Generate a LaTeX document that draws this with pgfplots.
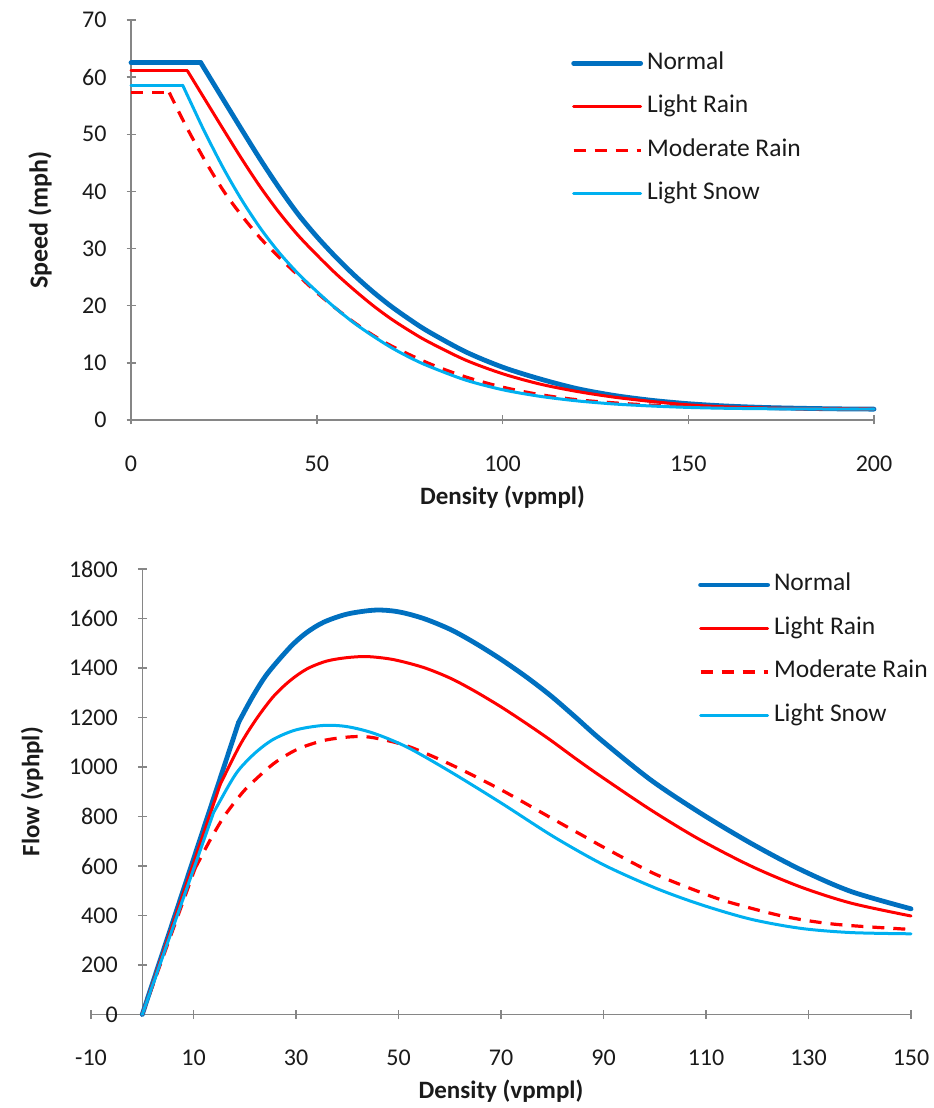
\documentclass[border=0pt]{standalone}
\usepackage{pgfplots}
\pgfplotsset{compat=1.18}
\usepackage{fontspec}
\setmainfont{Carlito}
\definecolor{cNormal}{HTML}{0070C0}
\definecolor{cRain}{HTML}{FF0000}
\definecolor{cSnow}{HTML}{00B0F0}
\definecolor{cAxis}{HTML}{868686}
\definecolor{cText}{HTML}{1A1A1A}

% ---------- Speed data (density, speed) ----------
\pgfplotstableread{
k v
0 62.5
18.8 62.5
}\spdNormalA
\pgfplotstableread{
k v
18.8 62.5
25 55.9
30 50.6
35 45.4
40 40.5
45 36.0
50 32.1
55 28.6
60 25.4
65 22.5
70 19.9
75 17.6
80 15.5
90 11.95
100 9.25
110 7.2
120 5.5
130 4.3
140 3.45
150 2.85
160 2.45
170 2.2
180 2.05
190 1.95
200 1.9
}\spdNormalB
\pgfplotstableread{
k v
0 61.1
15.2 61.1
}\spdRainA
\pgfplotstableread{
k v
15.2 61.1
20 56.0
25 50.7
30 45.5
35 40.6
40 36.2
45 32.3
50 28.9
55 25.7
60 22.8
65 20.1
70 17.7
75 15.6
80 13.7
90 10.5
100 8.1
110 6.3
120 5.0
130 4.0
140 3.25
150 2.65
160 2.3
170 2.1
180 2.0
190 1.93
200 1.9
}\spdRainB
\pgfplotstableread{
k v
0 57.3
10.3 57.3
}\spdModA
\pgfplotstableread{
k v
10.3 57.3
15 51.2
20 45.3
25 40.0
30 35.6
35 31.7
40 28.4
45 25.3
50 22.3
55 19.6
60 17.1
65 14.9
70 13.0
80 9.95
90 7.55
100 5.75
110 4.45
120 3.55
130 3.0
140 2.6
150 2.32
160 2.15
175 2.0
200 1.9
}\spdModB
\pgfplotstableread{
k v
0 58.6
13.9 58.6
}\spdSnowA
\pgfplotstableread{
k v
13.9 58.6
17 54.3
20 50.2
25 43.9
30 38.3
35 33.4
40 29.2
45 25.6
50 22.5
55 19.6
60 17.0
65 14.75
70 12.7
75 10.95
80 9.45
90 7.0
100 5.3
110 4.15
120 3.35
130 2.8
140 2.45
150 2.2
160 2.05
175 1.95
200 1.9
}\spdSnowB

% ---------- Flow data (density, flow) ----------
\pgfplotstableread{
k q
0 0
18.8 1180
}\flwNormalA
\pgfplotstableread{
k q
18.8 1180
21.5 1283
24.4 1377
28.9 1485
32 1542
35.4 1585
40 1618
45.5 1634
50 1627
54.9 1600
60.2 1555
65 1500
70 1435
75 1363
79.7 1288
84.5 1202
89.5 1110
99.2 948
108.9 814
118.75 692
128.5 585
138.3 497
150 427
}\flwNormalB
\pgfplotstableread{
k q
0 0
15.2 929
}\flwRainA
\pgfplotstableread{
k q
15.2 929
19 1086
22.2 1192
25.6 1285
28.9 1350
32.2 1397
36 1428
40 1442
44 1446
49 1434
54.9 1402
60.2 1358
65 1305
70 1243
75 1175
79.7 1108
84.5 1035
89.5 962
99.2 827
108.5 710
118.75 600
128.5 515
138.3 450
150 398
}\flwRainB
\pgfplotstableread{
k q
0 0
10.3 590
}\flwModA
\pgfplotstableread{
k q
10.3 590
13.3 707
15.9 798
18.5 870
20.7 922
25.6 1013
30.2 1071
35 1105
38.7 1118
42 1123
45.2 1118
51.7 1085
60.2 1010
70 908
79.7 795
86.9 712
90 676
100 568
110.3 483
115.5 448
125.3 396
135 365
148 346
150 345
}\flwModB
\pgfplotstableread{
k q
0 0
13.9 815
}\flwSnowA
\pgfplotstableread{
k q
13.9 815
17.2 937
19.1 995
22.2 1060
25.6 1112
30 1150
35.4 1168
40 1163
45.2 1136
51.7 1080
60.2 980
70 855
80.3 718
90 605
100 512
109 444
118.75 385
128.5 348
138.3 331
150 326
}\flwSnowB

\pgfplotsset{
  base/.style={
    scale only axis,
    axis line style={cAxis, line width=0.75pt},
    tick style={cAxis, line width=0.75pt},
    tick align=outside,
    major tick length=4.5pt,
    tick label style={font=\fontsize{12}{14}\selectfont, text=cText},
    xticklabel style={yshift=-12pt},
    yticklabel style={xshift=-6.5pt},
    /pgf/number format/assume math mode=true,
    /pgf/number format/1000 sep={},
    legend style={draw=none, fill=none, inner sep=0pt,
      font=\fontsize{12.75}{15}\selectfont, text=cText,
      nodes={inner sep=0pt, text height=9pt, text depth=3pt, anchor=west},
      row sep=9.75pt, column sep=2pt},
    legend cell align=left,
    legend image code/.code={\draw[##1] (0pt,0pt) -- (33.5pt,0pt);},
    clip=false,
  },
  sNormal/.style={draw=cNormal, line width=2.4pt, line cap=round, line join=round, no marks},
  sRain/.style={draw=cRain, line width=1.5pt, line cap=round, line join=round, no marks},
  sMod/.style={draw=cRain, line width=1.6pt, line join=round, dash pattern=on 6pt off 4.5pt, no marks},
  sSnow/.style={draw=cSnow, line width=1.5pt, line cap=round, line join=round, no marks},
}

\begin{document}
\begin{tikzpicture}
\useasboundingbox (0,0) rectangle (466.5pt,554pt);

% ---------------- Speed vs density ----------------
\begin{axis}[base,
  at={(65.5pt,344pt)}, anchor=south west,
  width=371.5pt, height=200pt,
  xmin=0, xmax=200, ymin=0, ymax=70,
  xtick={0,50,100,150,200}, ytick={0,10,...,70},
  axis x line=bottom, axis y line=left,
  x axis line style={-}, y axis line style={-},
  xlabel={Density (vpmpl)}, ylabel={Speed (mph)},
  every axis x label/.style={at={(rel axis cs:0.5,0)}, yshift=-38.5pt, anchor=center,
    font=\bfseries\fontsize{12.5}{15}\selectfont, text=cText},
  every axis y label/.style={at={(rel axis cs:0,0.5)}, xshift=-45.5pt, rotate=90, anchor=center,
    font=\bfseries\fontsize{13}{15}\selectfont, text=cText},
  legend style={at={(rel axis cs:0.592,0.9225)}, anchor=north west},
]
\addplot[sNormal, forget plot] table[x=k,y=v] {\spdNormalA};
\addplot[sNormal, smooth] table[x=k,y=v] {\spdNormalB};
\addlegendentry{Normal}
\addplot[sRain, forget plot] table[x=k,y=v] {\spdRainA};
\addplot[sRain, smooth] table[x=k,y=v] {\spdRainB};
\addlegendentry{Light Rain}
\addplot[sMod, forget plot] table[x=k,y=v] {\spdModA};
\addplot[sMod, smooth] table[x=k,y=v] {\spdModB};
\addlegendentry{Moderate Rain}
\addplot[sSnow, forget plot] table[x=k,y=v] {\spdSnowA};
\addplot[sSnow, smooth] table[x=k,y=v] {\spdSnowB};
\addlegendentry{Light Snow}
\end{axis}

% ---------------- Flow vs density ----------------
\begin{axis}[base,
  at={(45.5pt,46.75pt)}, anchor=south west,
  width=410pt, height=222.75pt,
  xmin=-10, xmax=150, ymin=0, ymax=1800,
  xtick={-10,10,...,150}, ytick={0,200,...,1800},
  axis x line=bottom, axis y line=left, axis y line shift=-25.625pt,
  x axis line style={-}, y axis line style={-},
  xlabel={Density (vpmpl)}, ylabel={Flow (vphpl)},
  every axis x label/.style={at={(rel axis cs:0.5,0)}, yshift=-38.5pt, anchor=center,
    font=\bfseries\fontsize{12.5}{15}\selectfont, text=cText},
  every axis y label/.style={at={(rel axis cs:0,0.5)}, xshift=-29.5pt, rotate=90, anchor=center,
    font=\bfseries\fontsize{12.5}{15}\selectfont, text=cText},
  legend style={at={(rel axis cs:0.740,0.992)}, anchor=north west},
]
\addplot[sNormal, forget plot] table[x=k,y=q] {\flwNormalA};
\addplot[sNormal, smooth] table[x=k,y=q] {\flwNormalB};
\addlegendentry{Normal}
\addplot[sRain, forget plot] table[x=k,y=q] {\flwRainA};
\addplot[sRain, smooth] table[x=k,y=q] {\flwRainB};
\addlegendentry{Light Rain}
\addplot[sMod, forget plot] table[x=k,y=q] {\flwModA};
\addplot[sMod, smooth] table[x=k,y=q] {\flwModB};
\addlegendentry{Moderate Rain}
\addplot[sSnow, forget plot] table[x=k,y=q] {\flwSnowA};
\addplot[sSnow, smooth] table[x=k,y=q] {\flwSnowB};
\addlegendentry{Light Snow}
\end{axis}
\end{tikzpicture}
\end{document}
